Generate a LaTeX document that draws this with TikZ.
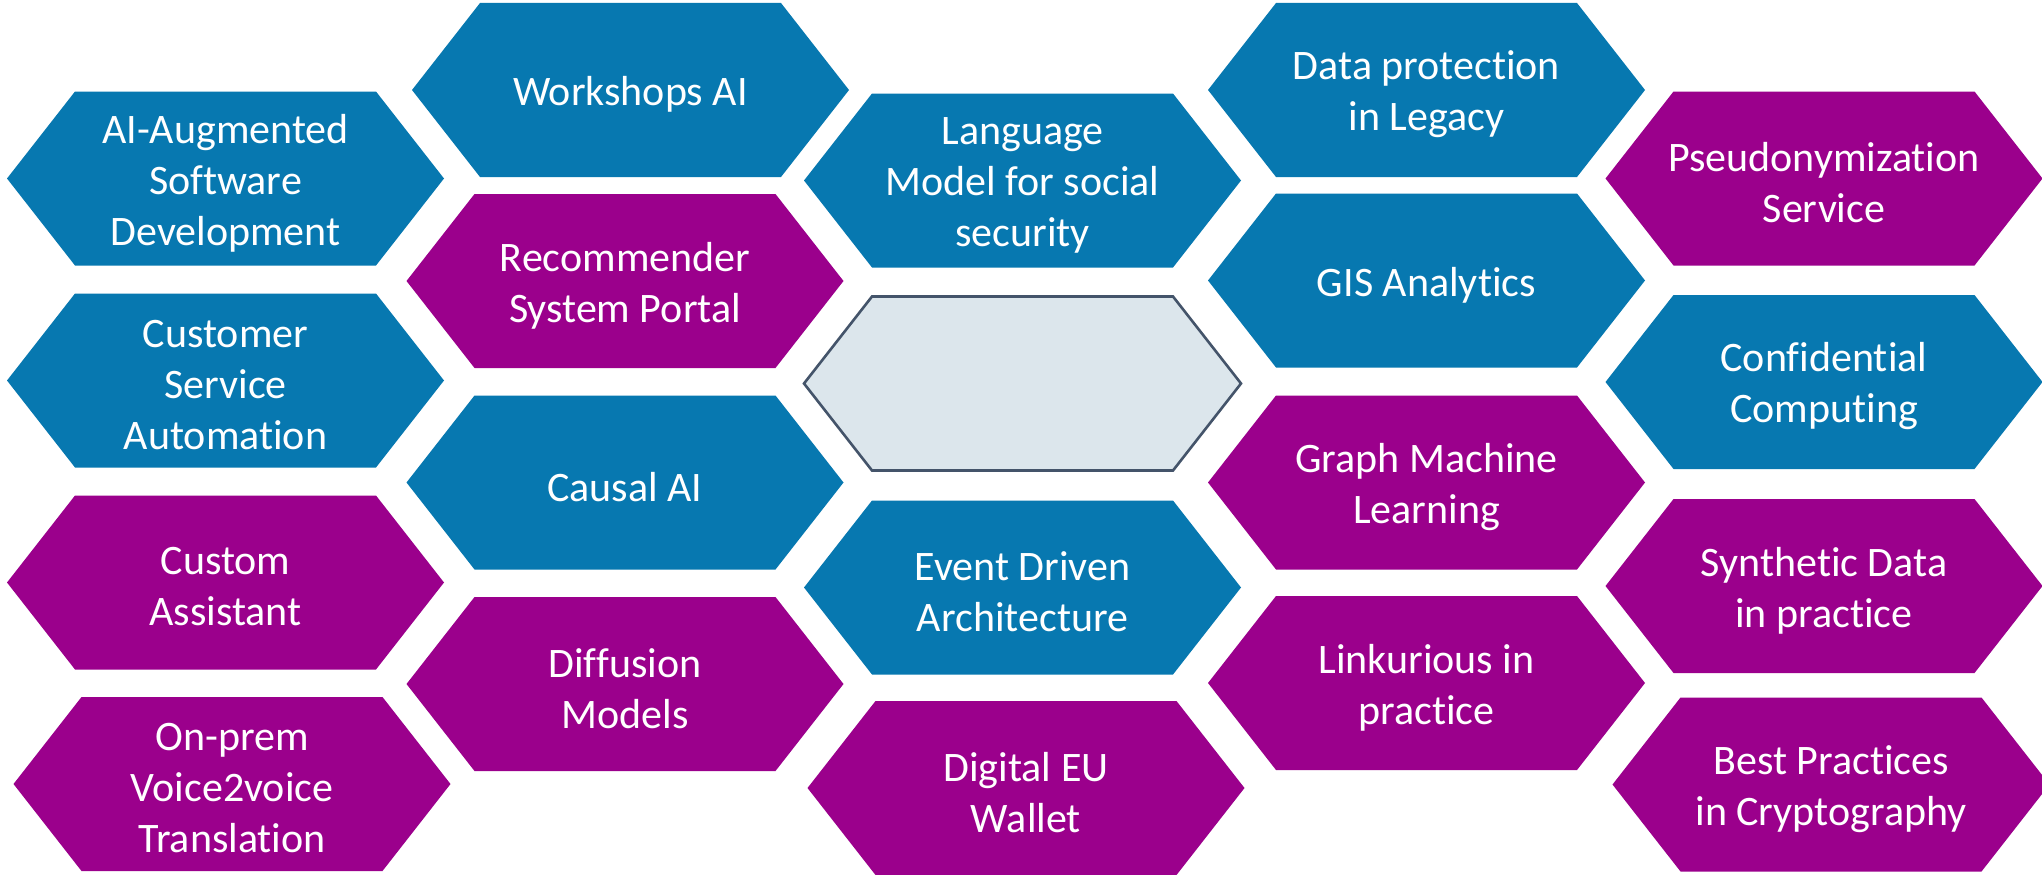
\documentclass[tikz,border=0pt]{standalone}
\usepackage{fontspec}
\setmainfont{Carlito}[Ligatures=NoCommon]
\definecolor{cellblue}{RGB}{7,120,176}
\definecolor{cellpurple}{RGB}{155,0,140}
\definecolor{corefill}{RGB}{220,230,236}
\definecolor{coreline}{RGB}{68,84,106}
\tikzset{
  celltext/.style={text=white, align=center, inner sep=0pt, yshift=-4.5pt,
    font=\fontsize{42}{51}\selectfont},
}
% hexagon cell: name, centre x, centre y, fill colour, label
\newcommand\hexcell[5]{%
  \fill[#4] (#2-218.5,#3) -- (#2-150.5,#3-87) -- (#2+150.5,#3-87)
    -- (#2+218.5,#3) -- (#2+150.5,#3+87) -- (#2-150.5,#3+87) -- cycle;
  \node[celltext] (#1) at (#2,#3) {#5};
}
\begin{document}
\begin{tikzpicture}[x=1pt,y=-1pt]
\useasboundingbox (0,0) rectangle (2042,875);
\fill[white] (0,0) rectangle (2042,875);

% column 1
\hexcell{aug}{225.5}{178.5}{cellblue}{AI-Augmented\\Software\\Development}
\hexcell{csa}{225.5}{380.5}{cellblue}{Customer\\Service\\Automation}
\hexcell{assist}{225.5}{582.5}{cellpurple}{Custom\\Assistant}
\hexcell{voice}{232}{784}{cellpurple}{On-prem\\Voice2voice\\Translation}

% column 2
\hexcell{workshops}{630.5}{90}{cellblue}{Workshops AI}
\hexcell{recsys}{625}{281}{cellpurple}{Recommender\\System Portal}
\hexcell{causal}{625}{482.5}{cellblue}{Causal AI}
\hexcell{diffusion}{625}{684}{cellpurple}{Diffusion\\Models}

% column 3
\hexcell{langmodel}{1022.5}{180.5}{cellblue}{Language\\Model for social\\security}
\filldraw[fill=corefill, draw=coreline, line width=2.6pt, line join=miter]
  (1022.5-218.5,383.5) -- (1022.5-150.5,383.5-87) -- (1022.5+150.5,383.5-87)
  -- (1022.5+218.5,383.5) -- (1022.5+150.5,383.5+87) -- (1022.5-150.5,383.5+87) -- cycle;
\node (core) at (1022.5,383.5) {};
\hexcell{eventdriven}{1022.5}{587.5}{cellblue}{Event Driven\\Architecture}
\hexcell{wallet}{1026}{788}{cellpurple}{Digital EU\\Wallet}

% column 4
\hexcell{legacy}{1426.5}{90}{cellblue}{Data protection\\in Legacy}
\hexcell{gis}{1426.5}{280.5}{cellblue}{GIS Analytics}
\hexcell{graphml}{1426.5}{482.5}{cellpurple}{Graph Machine\\Learning}
\hexcell{linkurious}{1426.5}{683}{cellpurple}{Linkurious in\\practice}

% column 5
\hexcell{pseudo}{1824}{178.5}{cellpurple}{Pseudonymization\\Service}
\hexcell{confidential}{1824}{382}{cellblue}{Confidential\\Computing}
\hexcell{synthetic}{1824}{586}{cellpurple}{Synthetic Data\\in practice}
\hexcell{crypto}{1831}{784.5}{cellpurple}{Best Practices\\in Cryptography}
\end{tikzpicture}
\end{document}
